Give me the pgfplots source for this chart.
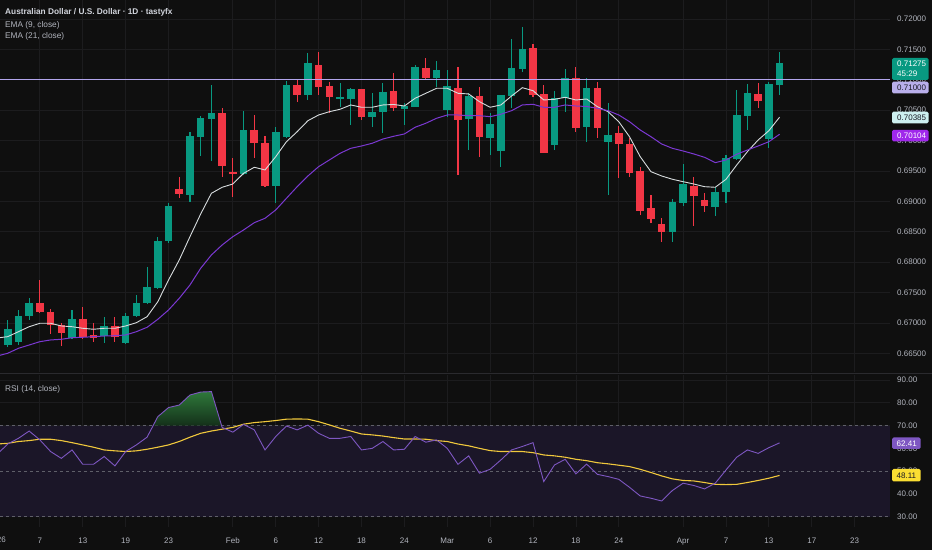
\documentclass[border=0pt]{standalone}
\usepackage{pgfplots}
\pgfplotsset{compat=1.18}
\usepackage{pgfplotstable}
\usepackage{fontspec}
\setmainfont{Liberation Sans}
\definecolor{bg}{RGB}{15,15,15}
\definecolor{gridc}{RGB}{28,28,30}
\definecolor{tickc}{RGB}{178,181,190}
\definecolor{titlec}{RGB}{209,212,220}
\definecolor{upc}{RGB}{8,153,129}
\definecolor{dnc}{RGB}{242,54,69}
\definecolor{emaa}{RGB}{215,220,222}
\definecolor{emab}{RGB}{123,56,210}
\definecolor{hlinec}{RGB}{178,165,236}
\definecolor{rsic}{RGB}{126,87,194}
\definecolor{rsimac}{RGB}{240,200,60}
\definecolor{bandc}{RGB}{27,22,40}
\definecolor{dashc}{RGB}{95,95,105}
\definecolor{boxlav}{RGB}{185,175,235}
\definecolor{boxcyan}{RGB}{205,240,240}
\definecolor{boxpur}{RGB}{160,40,235}
\definecolor{boxyel}{RGB}{250,222,50}
\definecolor{darktxt}{RGB}{25,25,35}
\definecolor{seplc}{RGB}{42,42,46}
\newcommand{\tvf}{\fontsize{8bp}{9.6bp}\selectfont}
\newcommand{\tvl}{\fontsize{8.3bp}{10bp}\selectfont}

\pgfplotstableread{
i o h l c
1 0.66638 0.67050 0.66610 0.66897
2 0.66693 0.67214 0.66638 0.67115
3 0.67110 0.67406 0.67050 0.67334
7 0.66749 0.67214 0.66732 0.67061
10 0.66786 0.67094 0.66666 0.66951
12 0.66666 0.67160 0.66655 0.67120
13 0.67115 0.67461 0.67094 0.67334
14 0.67334 0.67926 0.67313 0.67587
15 0.67575 0.68420 0.67554 0.68349
16 0.68343 0.68979 0.68321 0.68924
18 0.69110 0.70146 0.68995 0.70076
19 0.70054 0.70405 0.69747 0.70367
20 0.70350 0.70914 0.69670 0.70449
23 0.69446 0.70492 0.69434 0.70174
26 0.69253 0.70229 0.68969 0.70146
27 0.70054 0.70985 0.70038 0.70914
29 0.70755 0.71436 0.70668 0.71271
32 0.70679 0.70952 0.70548 0.70712
33 0.70684 0.70860 0.70257 0.70844
35 0.70383 0.70778 0.70229 0.70475
36 0.70465 0.70942 0.70130 0.70799
38 0.70520 0.70623 0.70257 0.70574
39 0.70558 0.71244 0.70548 0.71216
41 0.71036 0.71314 0.70887 0.71161
42 0.70503 0.71161 0.70393 0.70898
44 0.70355 0.70778 0.69845 0.70734
46 0.70048 0.70449 0.69763 0.70273
47 0.69829 0.70750 0.69571 0.70745
48 0.70734 0.71666 0.70531 0.71189
49 0.71173 0.71873 0.71133 0.71507
52 0.69928 0.70821 0.69845 0.70706
53 0.70706 0.71173 0.70475 0.71036
55 0.70219 0.71025 0.69982 0.70860
57 0.69982 0.70614 0.69105 0.70092
63 0.68492 0.69035 0.68337 0.68995
64 0.68979 0.69615 0.68924 0.69286
67 0.68913 0.69242 0.68760 0.69160
68 0.69160 0.69763 0.68969 0.69709
69 0.69697 0.70832 0.69681 0.70421
70 0.70405 0.70931 0.70174 0.70778
72 0.70021 0.70969 0.69873 0.70931
73 0.70914 0.71462 0.70750 0.71275
}\upt

\pgfplotstableread{
i o h l c
4 0.67334 0.67707 0.67160 0.67186
5 0.67186 0.67225 0.66819 0.66967
6 0.66967 0.67005 0.66627 0.66831
8 0.67061 0.67268 0.66732 0.66765
9 0.66803 0.67005 0.66693 0.66758
11 0.66945 0.67094 0.66693 0.66775
17 0.69199 0.69396 0.69051 0.69117
21 0.70459 0.70531 0.69396 0.69582
22 0.69489 0.69709 0.69077 0.69446
24 0.70174 0.70421 0.69709 0.69956
25 0.69960 0.70076 0.69245 0.69253
28 0.70914 0.70997 0.70640 0.70750
30 0.71244 0.71462 0.70750 0.70877
31 0.70898 0.70969 0.70449 0.70712
34 0.70844 0.70850 0.70339 0.70383
37 0.70816 0.71117 0.70492 0.70531
40 0.71199 0.71354 0.71008 0.71025
43 0.70860 0.71216 0.69434 0.70339
45 0.70734 0.70887 0.69735 0.70054
50 0.71523 0.71589 0.70722 0.70750
51 0.70767 0.70914 0.69796 0.69801
54 0.71036 0.71216 0.70146 0.70202
56 0.70860 0.70969 0.70038 0.70202
58 0.70120 0.70240 0.69380 0.69944
59 0.69950 0.70038 0.69406 0.69462
60 0.69500 0.69571 0.68776 0.68842
61 0.68887 0.69105 0.68640 0.68715
62 0.68628 0.68722 0.68337 0.68502
65 0.69253 0.69406 0.68596 0.69089
66 0.69023 0.69143 0.68831 0.68929
71 0.70767 0.70942 0.70531 0.70651
}\dnt

\pgfplotstableread{
i ema9 ema21 rsi rsima
0 0.66753 0.66457 57.3 61.9
1 0.66775 0.66502 61.9 62.2
2 0.66857 0.66584 64.4 63.0
3 0.66939 0.66638 67.6 63.4
4 0.66995 0.66693 63.7 64.0
5 0.66995 0.66721 58.6 64.0
6 0.66951 0.66732 55.6 63.4
7 0.66939 0.66758 59.3 62.5
8 0.66913 0.66765 53.0 61.5
9 0.66897 0.66775 53.0 60.5
10 0.66913 0.66786 56.4 59.3
11 0.66913 0.66791 52.3 58.9
12 0.66951 0.66803 58.6 58.6
13 0.67005 0.66857 61.5 58.9
14 0.67104 0.66929 64.9 59.6
15 0.67350 0.67061 73.9 60.5
16 0.67707 0.67214 77.9 61.5
17 0.68036 0.67406 79.0 63.0
18 0.68420 0.67625 83.4 64.9
19 0.68793 0.67900 84.7 66.6
20 0.69133 0.68119 84.9 67.6
21 0.69232 0.68283 69.2 68.4
22 0.69286 0.68420 67.1 69.2
23 0.69462 0.68530 70.5 70.6
24 0.69561 0.68650 68.1 71.3
25 0.69517 0.68722 59.3 71.7
26 0.69735 0.68859 65.2 72.2
27 0.69982 0.69051 69.8 72.8
28 0.70146 0.69242 68.1 72.9
29 0.70327 0.69418 70.2 72.8
30 0.70421 0.69571 66.6 71.7
31 0.70475 0.69681 64.4 70.3
32 0.70515 0.69791 64.4 68.8
33 0.70586 0.69873 65.2 67.6
34 0.70548 0.69911 59.3 66.3
35 0.70548 0.69956 60.0 65.9
36 0.70586 0.70026 63.0 65.4
37 0.70594 0.70071 59.3 64.7
38 0.70569 0.70109 59.6 64.1
39 0.70696 0.70219 65.2 64.1
40 0.70778 0.70285 62.7 64.0
41 0.70860 0.70367 63.7 63.4
42 0.70860 0.70421 60.0 63.0
43 0.70778 0.70421 53.0 61.9
44 0.70767 0.70410 56.7 61.1
45 0.70640 0.70410 49.1 60.0
46 0.70548 0.70393 50.8 59.0
47 0.70586 0.70433 54.9 58.6
48 0.70734 0.70492 59.3 58.6
49 0.70870 0.70586 60.8 58.6
50 0.70821 0.70597 62.5 58.1
51 0.70668 0.70548 45.4 57.1
52 0.70679 0.70548 52.7 56.7
53 0.70712 0.70586 55.2 56.1
54 0.70668 0.70569 48.8 55.2
55 0.70684 0.70561 53.1 54.6
56 0.70558 0.70531 48.6 53.7
57 0.70475 0.70492 47.6 53.2
58 0.70311 0.70421 46.4 52.6
59 0.70064 0.70311 42.9 52.0
60 0.69735 0.70174 39.1 50.8
61 0.69489 0.70064 38.1 49.4
62 0.69418 0.69944 36.9 47.9
63 0.69364 0.69873 41.5 46.6
64 0.69324 0.69829 44.7 45.9
65 0.69286 0.69780 43.7 45.7
66 0.69242 0.69725 42.2 45.0
67 0.69232 0.69637 44.7 44.2
68 0.69364 0.69681 50.5 44.1
69 0.69599 0.69775 56.1 44.2
70 0.69818 0.69845 59.3 45.0
71 0.70010 0.69911 57.8 45.9
72 0.70163 0.69982 60.3 46.9
73 0.70385 0.70104 62.41 48.11
}\indt

\begin{document}
\begin{tikzpicture}[x=1bp,y=1bp]
\fill[bg] (0,0) rectangle (932,550);
\path[use as bounding box] (0,0) rectangle (932,550);

% ---------------- price pane ----------------
\begin{axis}[
  name=price, at={(0bp,550bp)}, anchor=north west, scale only axis,
  width=890bp, height=372bp,
  xmin=0.28, xmax=83.30, ymin=0.661942, ymax=0.723125,
  axis line style={draw=none}, major tick length=0pt,
  xtick={4,8,12,16,22,26,30,34,38,42,46,50,54,58,64,68,72,76,80},
  xticklabels={},
  ytick={0.665,0.670,0.675,0.680,0.685,0.690,0.695,0.700,0.705,0.710,0.715,0.720},
  scaled y ticks=false,
  yticklabel pos=right,
  /pgf/number format/assume math mode=true,
  yticklabel={\pgfmathprintnumber[fixed,fixed zerofill,precision=5]{\tick}},
  yticklabel style={anchor=west, inner sep=0pt, xshift=7bp, font=\tvf, text=tickc},
  grid=major, grid style={draw=gridc, line width=0.8bp},
]
% wicks
\addplot[draw=none, mark=none, forget plot, error bars/.cd, y dir=both, y explicit, error mark=none,
  error bar style={draw=upc, solid, line width=1.1bp}]
  table[x=i, y expr={(\thisrow{h}+\thisrow{l})/2}, y error expr={(\thisrow{h}-\thisrow{l})/2}] {\upt};
\addplot[draw=none, mark=none, forget plot, error bars/.cd, y dir=both, y explicit, error mark=none,
  error bar style={draw=dnc, solid, line width=1.1bp}]
  table[x=i, y expr={(\thisrow{h}+\thisrow{l})/2}, y error expr={(\thisrow{h}-\thisrow{l})/2}] {\dnt};
% bodies
\addplot[draw=none, mark=none, forget plot, error bars/.cd, y dir=both, y explicit, error mark=none,
  error bar style={draw=upc, solid, line width=7.6bp}]
  table[x=i, y expr={(\thisrow{o}+\thisrow{c})/2}, y error expr={(\thisrow{c}-\thisrow{o})/2+0.00001}] {\upt};
\addplot[draw=none, mark=none, forget plot, error bars/.cd, y dir=both, y explicit, error mark=none,
  error bar style={draw=dnc, solid, line width=7.6bp}]
  table[x=i, y expr={(\thisrow{o}+\thisrow{c})/2}, y error expr={(\thisrow{o}-\thisrow{c})/2+0.00001}] {\dnt};
% EMAs
\addplot[emaa, line width=0.9bp, mark=none] table[x=i, y=ema9] {\indt};
\addplot[emab, line width=1.0bp, mark=none] table[x=i, y=ema21] {\indt};
% horizontal level
\addplot[hlinec, line width=1.3bp, mark=none] coordinates {(0.28,0.71) (83.30,0.71)};
\end{axis}

% separator
\draw[seplc, line width=1bp] (0,176.5) -- (932,176.5);

% ---------------- RSI pane ----------------
\begin{axis}[
  name=rsi, at={(0bp,175bp)}, anchor=north west, scale only axis,
  width=890bp, height=152bp,
  xmin=0.28, xmax=83.30, ymin=25.48, ymax=92.19,
  axis line style={draw=none}, major tick length=0pt,
  xtick={4,8,12,16,22,26,30,34,38,42,46,50,54,58,64,68,72,76,80},
  xticklabels={7,13,19,23,Feb,6,12,18,24,Mar,6,12,18,24,Apr,7,13,17,23},
  xticklabel style={anchor=base, inner sep=0pt, yshift=-16bp, font=\tvf, text=tickc},
  ytick={30,40,50,60,70,80,90},
  yticklabel pos=right,
  /pgf/number format/assume math mode=true,
  yticklabel={\pgfmathprintnumber[fixed,fixed zerofill,precision=2]{\tick}},
  yticklabel style={anchor=west, inner sep=0pt, xshift=7bp, font=\tvf, text=tickc},
  grid=major, grid style={draw=gridc, line width=0.8bp},
]
\addplot[draw=none, fill=bandc, forget plot] coordinates {(0.28,30) (83.30,30) (83.30,70) (0.28,70)} -- cycle;
\addplot[dashc, dashed, line width=0.8bp, mark=none, forget plot] coordinates {(0.28,70) (83.30,70)};
\addplot[dashc, dashed, line width=0.8bp, mark=none, forget plot] coordinates {(0.28,50) (83.30,50)};
\addplot[dashc, dashed, line width=0.8bp, mark=none, forget plot] coordinates {(0.28,30) (83.30,30)};
\addplot[draw=none, top color={rgb,255:red,46;green,120;blue,58}, bottom color={rgb,255:red,20;green,48;blue,26}, forget plot]
  coordinates {(14.57,70) (15,73.9) (16,77.9) (17,79.0) (18,83.4) (19,84.7) (20,84.9) (20.95,70)} -- cycle;
\addplot[rsimac, line width=1.1bp, mark=none] table[x=i, y=rsima] {\indt};
\addplot[rsic, line width=0.9bp, mark=none] table[x=i, y=rsi] {\indt};
\end{axis}

% year label at the left edge
\node[anchor=base, inner sep=0pt, font=\tvf, text=tickc] at (-3,7) {2026};

% legends
\node[anchor=base west, inner sep=0pt, font=\tvl\bfseries, text=titlec] at (5,535) {Australian Dollar / U.S. Dollar · 1D · tastyfx};
\node[anchor=base west, inner sep=0pt, font=\tvl, text=tickc] at (5,522.5) {EMA (9, close)};
\node[anchor=base west, inner sep=0pt, font=\tvl, text=tickc] at (5,511) {EMA (21, close)};
\node[anchor=base west, inner sep=0pt, font=\tvl, text=tickc] at (5,158.5) {RSI (14, close)};

% price scale boxes
\fill[upc, rounded corners=1.5bp] (892,470) rectangle (928.5,492);
\node[anchor=base west, inner sep=0pt, font=\tvf, text=white] at (897,483.5) {0.71275};
\node[anchor=base west, inner sep=0pt, font=\tvf, text=white] at (897,473.5) {45:29};
\fill[boxlav, rounded corners=1.5bp] (892,456.7) rectangle (928.5,468.3);
\node[anchor=base west, inner sep=0pt, font=\tvf, text=darktxt] at (897,459.5) {0.71000};
\fill[boxcyan, rounded corners=1.5bp] (892,426.7) rectangle (928.5,438.3);
\node[anchor=base west, inner sep=0pt, font=\tvf, text=darktxt] at (897,429.5) {0.70385};
\fill[boxpur, rounded corners=1.5bp] (892,408.5) rectangle (928.5,420.2);
\node[anchor=base west, inner sep=0pt, font=\tvf, text=white] at (897,411.2) {0.70104};
% RSI boxes
\fill[rsic, rounded corners=1.5bp] (892,101) rectangle (920.5,112.5);
\node[anchor=base west, inner sep=0pt, font=\tvf, text=white] at (896.5,103.7) {62.41};
\fill[boxyel, rounded corners=1.5bp] (892,68.5) rectangle (920.5,81);
\node[anchor=base west, inner sep=0pt, font=\tvf, text=darktxt] at (896.5,71.5) {48.11};
\end{tikzpicture}
\end{document}
